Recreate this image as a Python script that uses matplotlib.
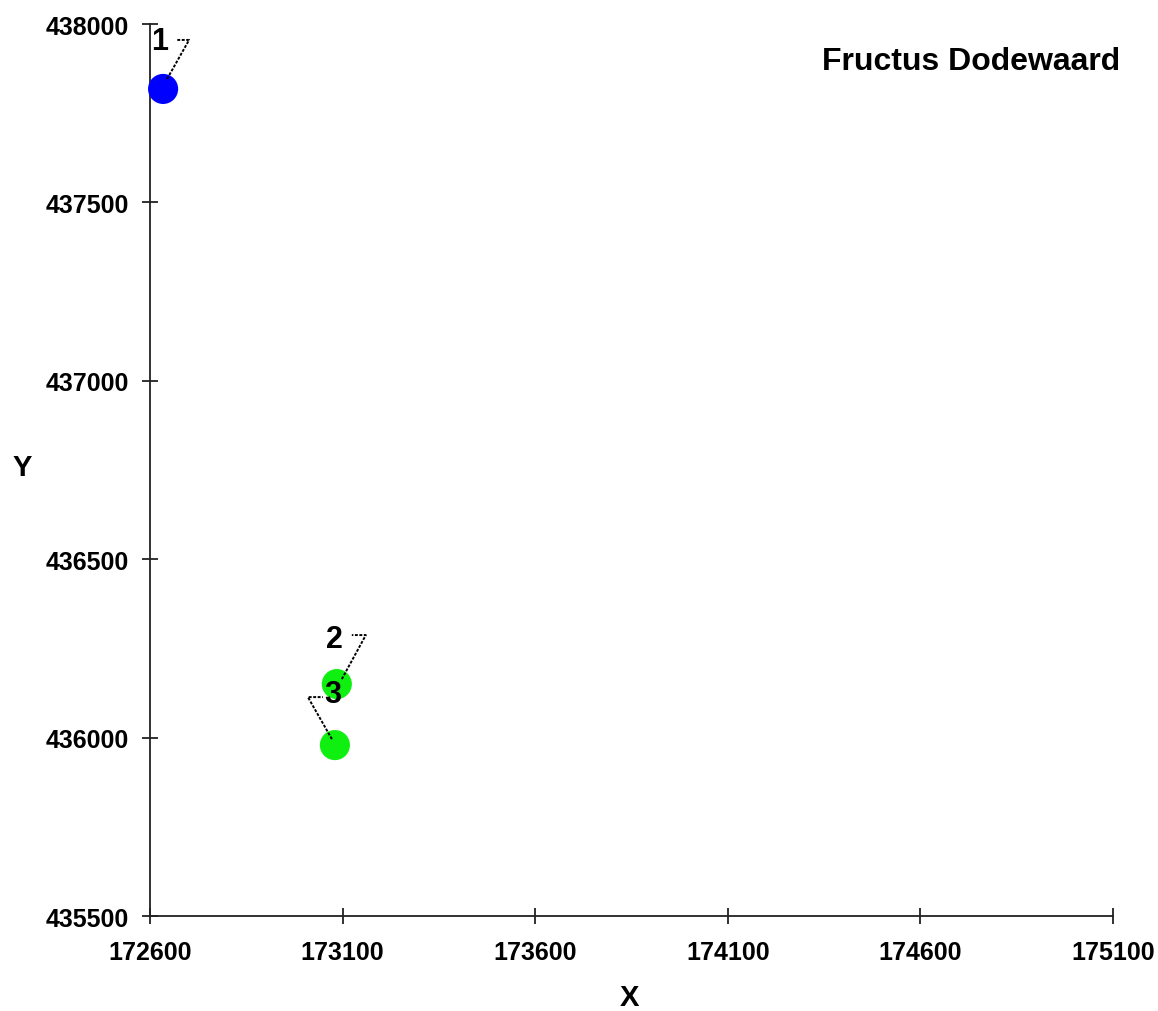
import matplotlib
matplotlib.use("Agg")
import matplotlib.pyplot as plt
from matplotlib.lines import Line2D
from matplotlib.transforms import IdentityTransform

# locations (RD coordinates)
point_labels = ["1", "2", "3"]
x_vals = [172634, 173085, 173080]
y_vals = [437818, 436150, 435979]
point_colors = ["#0000ff", "#10f010", "#10f010"]

x_ticks = [172600, 173100, 173600, 174100, 174600, 175100]
y_ticks = [435500, 436000, 436500, 437000, 437500, 438000]
title = "Fructus Dodewaard"

# leader layout per label, in pixels from the point: start, corner, end, text
leaders = [
    [(4, 10), (26, 49), (13, 49), (-3, 48)],
    [(5, 5), (29, 49), (15, 49), (-2, 45)],
    [(-3, 6), (-27, 48), (-12, 48), (-2, 51)],
]

plt.rcParams['font.family'] = ['Liberation Sans', 'DejaVu Sans']
plt.rcParams['font.weight'] = 'bold'

fig = plt.figure(figsize=(11.58, 10.12), dpi=100)
W, H = 1158, 1012
ax = fig.add_axes([150 / W, 1 - 917 / H, 963 / W, 892 / H])

ax.scatter(x_vals, y_vals, s=470, c=point_colors, linewidths=0, zorder=3, clip_on=False)

ax.set_xlim(x_ticks[0], x_ticks[-1])
ax.set_ylim(y_ticks[0], y_ticks[-1])
ax.set_xticks(x_ticks)
ax.set_yticks(y_ticks)
ax.set_xticklabels([str(t) for t in x_ticks], fontsize=18, fontweight='bold')
ax.set_yticklabels([str(t) for t in y_ticks], fontsize=18, fontweight='bold')
ax.tick_params(direction='inout', length=11, width=1.3, color='#222222')
ax.tick_params(axis='x', pad=12)
ax.tick_params(axis='y', pad=9.5)

for side in ['top', 'right']:
    ax.spines[side].set_visible(False)
for side in ['left', 'bottom']:
    ax.spines[side].set_linewidth(1.3)
    ax.spines[side].set_color('#222222')

fig.text(629 / W, 1 - 998 / H, "X", fontsize=21, fontweight='bold', ha='center', va='center')
fig.text(22 / W, 1 - 468 / H, "Y", fontsize=21, fontweight='bold', ha='center', va='center')
fig.text(971 / W, 1 - 62 / H, title, fontsize=23, fontweight='bold', ha='center', va='center')

# labels with leader lines
for lab, x, y, ld in zip(point_labels, x_vals, y_vals, leaders):
    px, py = ax.transData.transform((x, y))
    (sx, sy), (cx, cy), (ex, ey), (tx, ty) = ld
    line = Line2D([px + sx, px + cx, px + ex], [py + sy, py + cy, py + ey],
                  transform=IdentityTransform(), color='black', lw=1.4,
                  linestyle=(0, (1.5, 0.8)), zorder=4)
    fig.add_artist(line)
    ax.annotate(lab, xy=(x, y), xytext=(tx, ty), textcoords='offset pixels',
                ha='center', va='center', fontsize=22, fontweight='bold', zorder=5)

fig.savefig("out.png", dpi=100)
